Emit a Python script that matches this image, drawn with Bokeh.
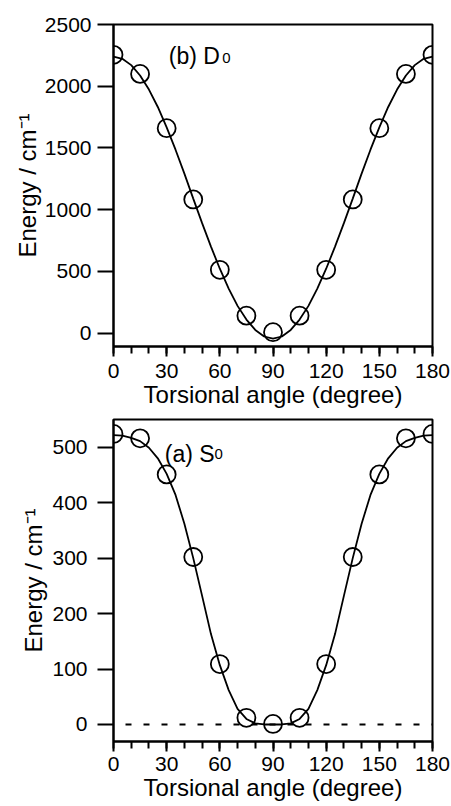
from bokeh.plotting import figure
from bokeh.models import FixedTicker, Label, Range1d
from bokeh.layouts import column
from bokeh.embed import file_html
from bokeh.resources import INLINE

# ---------------- data ----------------
angles = [0, 15, 30, 45, 60, 75, 90, 105, 120, 135, 150, 165, 180]
d0_energy = [2254, 2100, 1660, 1083, 513, 142, 8, 142, 513, 1083, 1660, 2100, 2254]
s0_energy = [524, 516, 451, 302, 109, 12, 1, 12, 109, 302, 451, 516, 524]

fit_angles = [0, 5, 10, 15, 20, 25, 30, 35, 40, 45, 50, 55, 60, 65, 70, 75, 80, 85, 90,
              95, 100, 105, 110, 115, 120, 125, 130, 135, 140, 145, 150, 155, 160, 165, 170, 175, 180]
d0_fit = [2240, 2222, 2171, 2087, 1973, 1832, 1667, 1486, 1292, 1090, 891, 701, 522, 361, 221, 110, 26, -27, -45,
          -27, 26, 110, 221, 361, 522, 701, 891, 1090, 1292, 1486, 1667, 1832, 1973, 2087, 2171, 2222, 2240]
s0_fit = [522, 521, 517, 511, 499, 480, 452, 414, 362, 300, 232, 163, 107, 62, 28, 10, 2, 0, 0,
          0, 2, 10, 28, 62, 107, 163, 232, 300, 362, 414, 452, 480, 499, 511, 517, 521, 522]

zero_x = [0, 180]
zero_y = [0, 0]

x_ticks = [0, 30, 60, 90, 120, 150, 180]
x_minor = [0, 10, 20, 30, 40, 50, 60, 70, 80, 90, 100, 110, 120, 130, 140, 150, 160, 170, 180]
d0_yticks = [0, 500, 1000, 1500, 2000, 2500]
s0_yticks = [0, 100, 200, 300, 400, 500]

x_title = "Torsional angle (degree)"
y_title = "Energy / cm\u207b\u00b9"

FONT = "Liberation Sans"


def style(p, yticks, ylab_standoff, ytitle_standoff, xlab_standoff):
    p.xgrid.visible = False
    p.ygrid.visible = False
    p.outline_line_color = "black"
    p.outline_line_width = 2
    p.outline_line_alpha = 1
    p.background_fill_color = "white"
    p.border_fill_color = "white"

    xa = p.xaxis[0]
    xa.ticker = FixedTicker(ticks=x_ticks, minor_ticks=x_minor)
    xa.axis_label = x_title
    xa.major_tick_in = 0
    xa.major_tick_out = 10
    xa.minor_tick_in = 0
    xa.minor_tick_out = 7
    xa.major_label_standoff = xlab_standoff
    xa.axis_label_standoff = 0

    ya = p.yaxis[0]
    ya.ticker = FixedTicker(ticks=yticks, minor_ticks=[])
    ya.axis_label = y_title
    ya.major_tick_in = 0
    ya.major_tick_out = 16
    ya.minor_tick_in = 0
    ya.minor_tick_out = 0
    ya.major_label_standoff = ylab_standoff
    ya.axis_label_standoff = ytitle_standoff

    for ax in (xa, ya):
        ax.axis_line_color = "black"
        ax.axis_line_width = 2
        ax.major_tick_line_color = "black"
        ax.major_tick_line_width = 2
        ax.minor_tick_line_color = "black"
        ax.minor_tick_line_width = 2
        ax.major_label_text_font = FONT
        ax.major_label_text_font_size = "21px"
        ax.major_label_text_color = "black"
        ax.axis_label_text_font = FONT
        ax.axis_label_text_font_size = "24px"
        ax.axis_label_text_font_style = "normal"
        ax.axis_label_text_color = "black"


# ---------------- top panel: D0 ----------------
p1 = figure(width=451, height=413,
            min_border_left=109, min_border_right=19, min_border_top=24, min_border_bottom=67,
            x_range=Range1d(0, 180), y_range=Range1d(-108, 2500),
            output_backend="svg", toolbar_location=None)
style(p1, d0_yticks, 6, 1, 7)
p1.line(fit_angles, d0_fit, line_color="black", line_width=1.8)
p1.scatter(angles, d0_energy, marker="circle", size=18, fill_color=None,
           line_color="black", line_width=1.8)
p1.add_layout(Label(x=31.2, y=2241, text="(b) D", text_font=FONT, text_font_size="23px",
                    text_color="black", text_baseline="alphabetic", text_align="left"))
p1.add_layout(Label(x=61.3, y=2230, text="0", text_font=FONT, text_font_size="15px",
                    text_color="black", text_baseline="alphabetic", text_align="left"))

# ---------------- bottom panel: S0 ----------------
p2 = figure(width=451, height=393,
            min_border_left=113, min_border_right=16, min_border_top=6, min_border_bottom=65,
            x_range=Range1d(0, 180), y_range=Range1d(-30.7, 550),
            output_backend="svg", toolbar_location=None)
style(p2, s0_yticks, 10, 2, 5)
p2.line(zero_x, zero_y, line_color="black", line_width=2, line_dash="6 12", line_dash_offset=6)
p2.line(fit_angles, s0_fit, line_color="black", line_width=1.8)
p2.scatter(angles, s0_energy, marker="circle", size=18, fill_color=None,
           line_color="black", line_width=1.8)
p2.add_layout(Label(x=28.9, y=488, text="(a) S", text_font=FONT, text_font_size="23px",
                    text_color="black", text_baseline="alphabetic", text_align="left"))
p2.add_layout(Label(x=57.0, y=487, text="0", text_font=FONT, text_font_size="15px",
                    text_color="black", text_baseline="alphabetic", text_align="left"))

layout = column(p1, p2, spacing=0)

with open("out.html", "w") as f:
    f.write(file_html(layout, INLINE))
